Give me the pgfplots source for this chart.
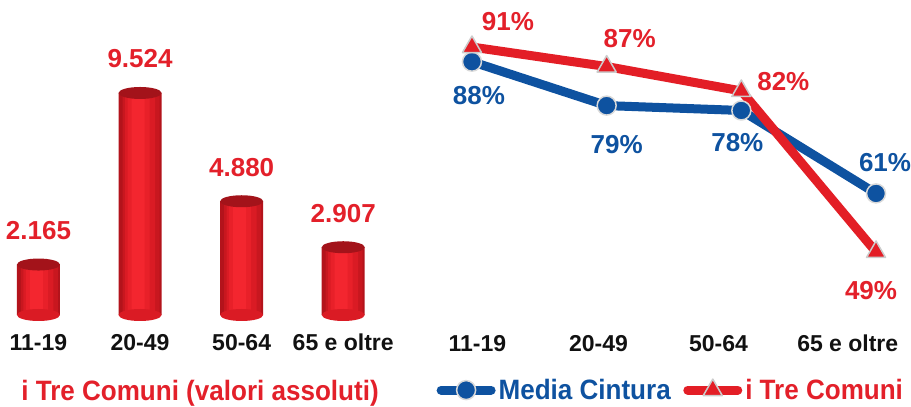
\documentclass[border=0pt]{standalone}
\usepackage{pgfplots}
\pgfplotsset{compat=1.18}
\usepackage{fontspec}
\setmainfont{Liberation Sans}
\newfontfamily\narrowfont[FakeStretch=0.93]{Liberation Sans}
\definecolor{labred}{HTML}{E3202A}
\definecolor{lblue}{HTML}{0E52A0}
\definecolor{lred}{HTML}{E31E26}
\definecolor{barA}{HTML}{B3131B}
\definecolor{barB}{HTML}{C8171F}
\definecolor{barC}{HTML}{DA1B24}
\definecolor{barD}{HTML}{E82029}
\definecolor{barE}{HTML}{F3262F}
\definecolor{capc}{HTML}{A3131A}
\definecolor{tickc}{HTML}{111111}
\pgfdeclareplotmark{cyltop}{\pgfpathellipse{\pgfpointorigin}{\pgfqpoint{21.5pt}{0pt}}{\pgfqpoint{0pt}{6pt}}\pgfusepathqfill}
\newcommand\valfont{\fontsize{26}{30}\selectfont\bfseries}
\newcommand\catfont{\fontsize{23}{27}\selectfont\bfseries}
\newcommand\legfont{\narrowfont\bfseries\fontsize{28}{32}\selectfont}
\pgfplotstableread{
x y
0 2165
1 9524
2 4880
3 2907
}\bardata
\begin{document}
\begin{tikzpicture}
\useasboundingbox (0,0) rectangle (911pt,407pt);
% ---------- left: bars ----------
\begin{axis}[
  at={(2.9pt,92pt)}, anchor=south west,
  scale only axis, width=401.3pt, height=295pt,
  xmin=-0.35, xmax=3.6, ymin=0, ymax=12655,
  axis x line*=bottom, axis y line=none,
  x axis line style={draw=none},
  xtick={0,1,2,3}, xticklabels={11-19,20-49,50-64,65 e oltre},
  ytick=\empty,
  major tick length=0pt,
  xticklabel style={anchor=base, yshift=-36pt, font=\catfont, text=tickc},
  clip=false,
]
\addplot[only marks, mark=cyltop, mark options={fill=barC, draw=none}] coordinates {(0,0) (1,0) (2,0) (3,0)};
\addplot[ybar, bar shift=0pt, bar width=43pt, draw=none, fill=barA] table {\bardata};
\addplot[ybar, bar shift=1pt, bar width=37pt, draw=none, fill=barB] table {\bardata};
\addplot[ybar, bar shift=0pt, bar width=30pt, draw=none, fill=barC] table {\bardata};
\addplot[ybar, bar shift=-1.5pt, bar width=22pt, draw=none, fill=barD] table {\bardata};
\addplot[ybar, bar shift=-2pt, bar width=13pt, draw=none, fill=barE] table {\bardata};
\addplot[only marks, mark=cyltop, mark options={fill=capc, draw=none},
  point meta=explicit symbolic, nodes near coords,
  nodes near coords style={anchor=center, yshift=34pt, font=\valfont, text=labred}]
  coordinates {(0,2165) [2.165] (1,9524) [9.524] (2,4880) [4.880] (3,2907) [2.907]};
\end{axis}
\node[anchor=base, text=labred, font=\legfont] at (200pt,6pt) {i Tre Comuni (valori assoluti)};
% ---------- right: lines ----------
\begin{axis}[
  at={(438.3pt,86.7pt)}, anchor=south west,
  scale only axis, width=471.4pt, height=312.3pt,
  xmin=-0.25, xmax=3.25, ymin=35, ymax=99,
  axis x line*=bottom, axis y line=none,
  x axis line style={draw=none},
  xtick={0.04,0.94,1.83,2.79}, xticklabels={11-19,20-49,50-64,65 e oltre},
  ytick=\empty,
  major tick length=0pt,
  xticklabel style={anchor=base, yshift=-30.7pt, font=\catfont, text=tickc},
  /pgf/number format/assume math mode=true,
  clip=false,
  legend columns=2,
  legend style={draw=none, fill=none, at={(-0.004,-0.2686)}, anchor=south west,
    font=\legfont, inner sep=0pt, nodes={inner sep=3pt},
    /tikz/every even column/.append style={column sep=9.5pt}},
  legend image code/.code={
    \draw[#1, mark=none, line cap=round] (0pt,0pt) -- (50pt,0pt);
    \draw[#1, only marks] plot coordinates {(25pt,0pt)};
  },
]
\addplot[lblue, line width=9pt, line join=round, mark=*, mark size=9.5pt,
  mark options={fill=lblue, draw=gray!30, line width=1.5pt},
  point meta=y,
  nodes near coords={\pgfmathprintnumber{\pgfplotspointmeta}\%},
  visualization depends on={value \thisrow{dx}\as\dx},
  visualization depends on={value \thisrow{dy}\as\dy},
  nodes near coords style={anchor=center, xshift=\dx pt, yshift=\dy pt, font=\valfont, text=lblue}]
  table {
x y dx dy
0 88 7 -34
1 79 10 -39
2 78 -4 -32
3 61 9 31
};
\addlegendentry{\textcolor{lblue}{Media Cintura}}
\addplot[lred, line width=9pt, line join=round, mark=triangle*, mark size=11pt,
  mark options={fill=lred, draw=gray!40, line width=1.5pt},
  point meta=y,
  nodes near coords={\pgfmathprintnumber{\pgfplotspointmeta}\%},
  visualization depends on={value \thisrow{dx}\as\dx},
  visualization depends on={value \thisrow{dy}\as\dy},
  nodes near coords style={anchor=center, xshift=\dx pt, yshift=\dy pt, font=\valfont, text=labred}]
  table {
x y dx dy
0 91 36 25
1 87 23 28
2 82 42 9
3 49 -5 -39
};
\addlegendentry{\textcolor{labred}{i Tre Comuni}}
\end{axis}
\end{tikzpicture}
\end{document}
